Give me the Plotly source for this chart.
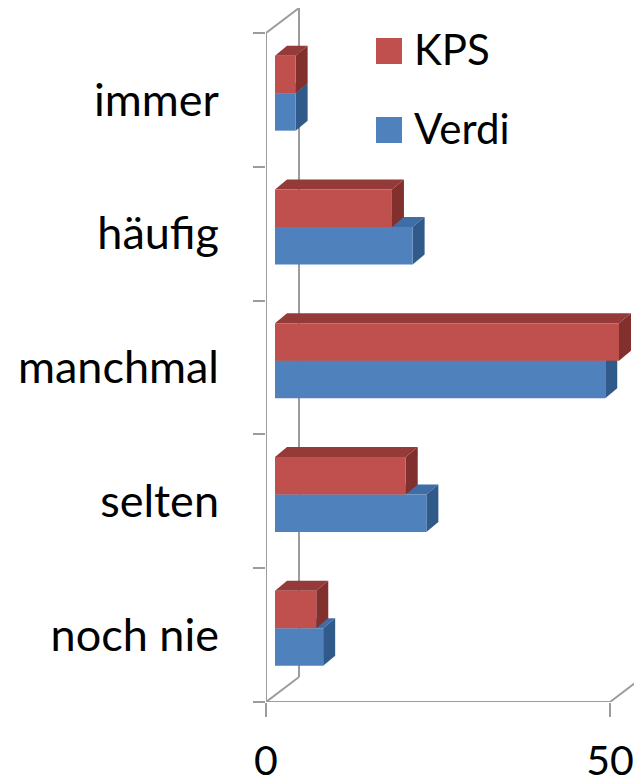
import plotly.graph_objects as go

# ---------------- data ----------------
categories = ["noch nie", "selten", "manchmal", "häufig", "immer"]
kps_values = [6, 19, 50, 17, 3]
verdi_values = [7, 22, 48, 20, 3]
series_names = ["KPS", "Verdi"]
x_tick_values = [0, 50]
x_tick_labels = ["0", "50"]

# ---------------- geometry / style ----------------
OFF = 8                      # default page body margin
W, H = 642 - OFF, 784 - OFF
ML, MR, MT, MB = 266 - OFF, 0, 0, 82
PW, PH = W - ML - MR, H - MT - MB
PX_PER_X = 6.88      # pixels per value unit
PX_PER_CAT = 133.8   # pixels per category

def ux(px):
    return px / PX_PER_X

def uy(px):
    return px / PX_PER_CAT

WALL_DX, WALL_DY = ux(33), uy(25)
SHIFT_X, SHIFT_Y = ux(9), uy(6.75)
BAR_DX, BAR_DY = ux(12), uy(10)
BAR_W = uy(37.5)

GRAY = "#9C9C9C"
FONT = "Lato, 'Open Sans', sans-serif"
COL = {
    "KPS": {"front": "#C0504D", "top": "#943A38", "side": "#82302E"},
    "Verdi": {"front": "#4F81BD", "top": "#3F6EA6", "side": "#2F5A89"},
}

x_max = PW / PX_PER_X
y_min = -0.5
y_max = -0.5 + PH / PX_PER_CAT

fig = go.Figure()
shapes = []

def line(x0, y0, x1, y1):
    shapes.append(dict(type="line", xref="x", yref="y", x0=x0, y0=y0, x1=x1, y1=y1,
                       line=dict(color=GRAY, width=2), layer="below"))

# walls / floor
n = len(categories)
top_b = n - 0.5
line(0, -0.5, 0, top_b)
line(0, top_b, WALL_DX, top_b + WALL_DY)
line(WALL_DX, top_b + WALL_DY, WALL_DX, -0.5 + WALL_DY)
line(0, -0.5, WALL_DX, -0.5 + WALL_DY)
line(0, -0.5, x_tick_values[-1], -0.5)
line(x_tick_values[-1], -0.5, x_tick_values[-1] + WALL_DX, -0.5 + WALL_DY)

def poly(pts, color):
    d = "M " + " L ".join(f"{a},{b}" for a, b in pts) + " Z"
    shapes.append(dict(type="path", xref="x", yref="y", path=d,
                       fillcolor=color, line=dict(width=0), layer="below"))

order = [("Verdi", verdi_values, -BAR_W), ("KPS", kps_values, 0.0)]
for name, vals, off in order:
    ys = [i + SHIFT_Y for i in range(n)]
    for yc, v in zip(ys, vals):
        yl = yc + off
        yu = yl + BAR_W
        x0 = SHIFT_X
        x1 = SHIFT_X + v
        poly([(x0, yu), (x1, yu), (x1 + BAR_DX, yu + BAR_DY), (x0 + BAR_DX, yu + BAR_DY)], COL[name]["top"])
        poly([(x1, yl), (x1, yu), (x1 + BAR_DX, yu + BAR_DY), (x1 + BAR_DX, yl + BAR_DY)], COL[name]["side"])
    fig.add_trace(go.Bar(
        orientation="h", y=ys, x=vals, base=SHIFT_X, offset=off, width=BAR_W,
        marker=dict(color=COL[name]["front"], line=dict(width=0)),
        name=name, showlegend=False, hoverinfo="x+name"))

# legend (drawn manually for large swatches); positions given in page pixels
def ppx(px):
    return (px - OFF - ML) / PW

def ppy(py):
    return 1 - (py - OFF - MT) / PH

annotations = []
for name, (y0, y1) in zip(series_names, [(38, 64), (117, 143)]):
    shapes.append(dict(type="rect", xref="paper", yref="paper",
                       x0=ppx(376), x1=ppx(402), y0=ppy(y1), y1=ppy(y0),
                       fillcolor=COL[name]["front"], line=dict(width=0)))
    annotations.append(dict(xref="paper", yref="paper", x=ppx(412), y=ppy((y0 + y1) / 2 - 2),
                            xanchor="left", yanchor="middle", showarrow=False, text=name,
                            font=dict(family=FONT, size=42, color="black")))

fig.update_layout(
    template="none",
    width=W, height=H, autosize=False,
    margin=dict(l=ML, r=MR, t=MT, b=MB, pad=0),
    paper_bgcolor="white", plot_bgcolor="white",
    barmode="overlay",
    shapes=shapes, annotations=annotations,
    showlegend=False,
    xaxis=dict(range=[0, x_max], tickvals=x_tick_values, ticktext=x_tick_labels,
               ticks="outside", ticklen=14, tickwidth=2, tickcolor=GRAY,
               showgrid=False, zeroline=False, showline=False, automargin=False,
               tickfont=dict(family=FONT, size=41, color="black"), ticklabelstandoff=9),
    yaxis=dict(range=[y_min, y_max], tickvals=list(range(n)), ticktext=categories,
               ticks="", showgrid=False, zeroline=False, showline=False, automargin=False,
               tickfont=dict(family=FONT, size=45, color="black"), ticklabelstandoff=46,
               minor=dict(tickvals=[i - 0.5 for i in range(n + 1)], ticks="outside",
                          ticklen=12, tickwidth=2, tickcolor=GRAY, showgrid=False)),
)

fig.write_html("out.html")
